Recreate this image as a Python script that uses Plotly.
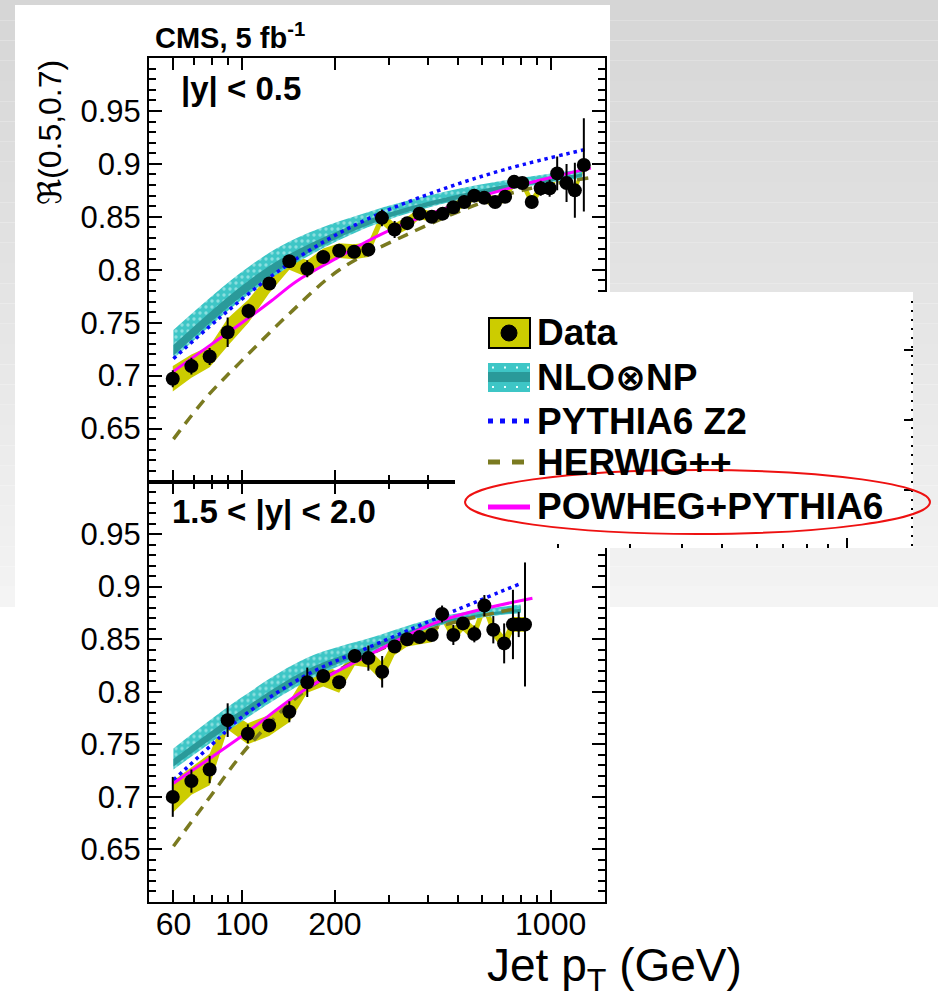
import numpy as np
import plotly.graph_objects as go

W, H = 938, 1005


def px(x):
    return x / W


def py(y):
    return 1 - y / H


# ---------------- data : |y| < 0.5 ----------------
pt_up = [59.7, 68.6, 78.6, 89.9, 105, 122.7, 142.4, 162.8, 183.4, 206.5, 230.8,
         256.8, 284.1, 312.3, 343.2, 375.9, 411.9, 447, 484, 525, 565.7, 609.6,
         661, 712, 761.5, 809.6, 868.5, 928.5, 992.6, 1050, 1126, 1198, 1281]
r_up = [0.697, 0.709, 0.718, 0.741, 0.761, 0.787, 0.808, 0.801, 0.812, 0.818, 0.817,
        0.819, 0.849, 0.838, 0.844, 0.853, 0.850, 0.853, 0.859, 0.864, 0.870, 0.868,
        0.864, 0.869, 0.883, 0.882, 0.864, 0.877, 0.877, 0.891, 0.882, 0.875, 0.899]
stat_up = [0.008, 0.008, 0.008, 0.014, 0.007, 0.005, 0.006, 0.008, 0.005, 0.004, 0.004,
           0.004, 0.008, 0.008, 0.005, 0.006, 0.004, 0.004, 0.005, 0.006, 0.006, 0.005,
           0.005, 0.005, 0.004, 0.005, 0.006, 0.007, 0.008, 0.016, 0.018, 0.026, 0.044]
sys_up = [0.012, 0.011, 0.010, 0.013, 0.011, 0.009, 0.008, 0.008, 0.008, 0.007, 0.007,
          0.007, 0.006, 0.006, 0.006, 0.005, 0.005, 0.005, 0.005, 0.005, 0.005, 0.005,
          0.005, 0.005, 0.005, 0.005, 0.005, 0.005, 0.005, 0.005, 0.005, 0.005, 0.005]

nlo_pt_up = [60, 100, 143, 266, 558, 1265]
nlo_lo_up = [0.716, 0.772, 0.803, 0.842, 0.869, 0.887]
nlo_hi_up = [0.743, 0.798, 0.827, 0.856, 0.879, 0.895]
nlo_inlo_up = [0.719, 0.775, 0.806, 0.844, 0.870, 0.888]
nlo_inhi_up = [0.729, 0.785, 0.815, 0.849, 0.874, 0.891]

py6_pt_up = [60, 85, 126, 188, 279, 436, 717, 1313]
py6_up = [0.716, 0.755, 0.795, 0.828, 0.853, 0.875, 0.895, 0.914]

hw_pt_up = [60, 77, 99, 143, 207, 341, 558, 809, 1347]
hw_up = [0.640, 0.680, 0.713, 0.759, 0.800, 0.833, 0.860, 0.875, 0.887]

pw_pt_up = [60, 80, 100, 125, 150, 200, 280, 400, 560, 800, 1100, 1350]
pw_up = [0.704, 0.730, 0.750, 0.771, 0.789, 0.810, 0.833, 0.852, 0.867, 0.880, 0.890, 0.896]

# ---------------- data : 1.5 < |y| < 2.0 ----------------
pt_lo = [59.7, 68.6, 78.6, 89.9, 104.5, 122.5, 142.4, 162.8, 183.4, 206.5, 232,
         256.8, 284.6, 312.3, 343, 376, 412, 445, 484, 520, 566, 610, 652, 707,
         755, 788, 826]
r_lo = [0.700, 0.715, 0.726, 0.773, 0.760, 0.768, 0.781, 0.809, 0.815, 0.809, 0.834,
        0.832, 0.819, 0.843, 0.850, 0.852, 0.854, 0.874, 0.854, 0.865, 0.855, 0.882,
        0.859, 0.846, 0.864, 0.864, 0.864]
stat_lo = [0.019, 0.011, 0.013, 0.016, 0.009, 0.005, 0.010, 0.014, 0.006, 0.006, 0.006,
           0.012, 0.015, 0.006, 0.006, 0.005, 0.005, 0.008, 0.0095, 0.006, 0.008, 0.010,
           0.013, 0.019, 0.033, 0.012, 0.059]
sys_lo = [0.015, 0.013, 0.015, 0.009, 0.010, 0.010, 0.010, 0.010, 0.010, 0.010, 0.009,
          0.009, 0.009, 0.008, 0.007, 0.007, 0.007, 0.007, 0.007, 0.007, 0.007, 0.007,
          0.007, 0.007, 0.007, 0.007, 0.007]

nlo_pt_lo = [60, 99, 162, 266, 436, 800]
nlo_lo_lo = [0.726, 0.771, 0.810, 0.838, 0.863, 0.875]
nlo_hi_lo = [0.746, 0.794, 0.832, 0.852, 0.871, 0.883]
nlo_inlo_lo = [0.729, 0.774, 0.813, 0.840, 0.864, 0.876]
nlo_inhi_lo = [0.736, 0.782, 0.821, 0.845, 0.867, 0.879]

py6_pt_lo = [60, 85, 99, 162, 266, 436, 800]
py6_lo = [0.716, 0.757, 0.775, 0.816, 0.844, 0.871, 0.903]

hw_pt_lo = [60, 77, 107, 162, 266, 436, 800]
hw_lo = [0.653, 0.696, 0.751, 0.802, 0.837, 0.862, 0.880]

pw_pt_lo = [60, 99, 162, 266, 436, 873]
pw_lo = [0.713, 0.757, 0.803, 0.837, 0.867, 0.889]

# tick labels
x_major = [60, 100, 200, 1000]
x_major_text = ["60", "100", "200", "1000"]
x_minor = [70, 80, 90, 300, 400, 500, 600, 700, 800, 900]
y_major = [0.65, 0.7, 0.75, 0.8, 0.85, 0.9, 0.95]
y_major_text = ["0.65", "0.7", "0.75", "0.8", "0.85", "0.9", "0.95"]

# ---------------- styles ----------------
YELLOW = "#cccc00"
CYAN = "#3ec6c6"
TEAL = "#2a9a9a"
BLUE = "#0a0aff"
OLIVE = "#7a7a20"
MAGENTA = "#ff00ff"
FONT = "Liberation Sans, Arial, DejaVu Sans"

fig = go.Figure()


def add_panel(xa, ya, pt, r, stat, sysu, npt, nlo, nhi, ninlo, ninhi,
              ppt, pval, hpt, hval, wpt, wval):
    # systematic band
    fig.add_trace(go.Scatter(x=pt, y=[a + b for a, b in zip(r, sysu)], mode="lines",
                             line=dict(width=0, color=YELLOW), xaxis=xa, yaxis=ya,
                             showlegend=False, hoverinfo="skip"))
    fig.add_trace(go.Scatter(x=pt, y=[a - b for a, b in zip(r, sysu)], mode="lines",
                             line=dict(width=0, color=YELLOW), fill="tonexty",
                             fillcolor=YELLOW, xaxis=xa, yaxis=ya,
                             showlegend=False, hoverinfo="skip"))
    # NLO outer band
    fig.add_trace(go.Scatter(x=npt, y=nhi, mode="lines", line=dict(width=0, color=CYAN, shape="spline"),
                             xaxis=xa, yaxis=ya, showlegend=False, hoverinfo="skip"))
    fig.add_trace(go.Scatter(x=npt, y=nlo, mode="lines", line=dict(width=0, color=CYAN, shape="spline"),
                             fill="tonexty", fillcolor=CYAN,
                             fillpattern=dict(shape=".", bgcolor=CYAN, fgcolor="#d8f8f8",
                                              size=6, solidity=0.25),
                             xaxis=xa, yaxis=ya, showlegend=False, hoverinfo="skip"))
    # NLO inner band
    fig.add_trace(go.Scatter(x=npt, y=ninhi, mode="lines", line=dict(width=0, color=TEAL, shape="spline"),
                             xaxis=xa, yaxis=ya, showlegend=False, hoverinfo="skip"))
    fig.add_trace(go.Scatter(x=npt, y=ninlo, mode="lines", line=dict(width=0, color=TEAL, shape="spline"),
                             fill="tonexty", fillcolor=TEAL,
                             xaxis=xa, yaxis=ya, showlegend=False, hoverinfo="skip"))
    # curves
    fig.add_trace(go.Scatter(x=hpt, y=hval, mode="lines",
                             line=dict(color=OLIVE, width=3.5, dash="11px,8px", shape="spline"),
                             xaxis=xa, yaxis=ya, showlegend=False))
    fig.add_trace(go.Scatter(x=ppt, y=pval, mode="lines",
                             line=dict(color=BLUE, width=3.5, dash="3.5px,4px", shape="spline"),
                             xaxis=xa, yaxis=ya, showlegend=False))
    fig.add_trace(go.Scatter(x=wpt, y=wval, mode="lines",
                             line=dict(color=MAGENTA, width=3, shape="spline"),
                             xaxis=xa, yaxis=ya, showlegend=False))
    # data
    fig.add_trace(go.Scatter(x=pt, y=r, mode="markers",
                             marker=dict(color="black", size=14, symbol="circle"),
                             error_y=dict(type="data", array=stat, color="black",
                                          thickness=2, width=0),
                             xaxis=xa, yaxis=ya, showlegend=False))


add_panel("x", "y", pt_up, r_up, stat_up, sys_up, nlo_pt_up, nlo_lo_up, nlo_hi_up,
          nlo_inlo_up, nlo_inhi_up, py6_pt_up, py6_up, hw_pt_up, hw_up, pw_pt_up, pw_up)
add_panel("x2", "y2", pt_lo, r_lo, stat_lo, sys_lo, nlo_pt_lo, nlo_lo_lo, nlo_hi_lo,
          nlo_inlo_lo, nlo_inhi_lo, py6_pt_lo, py6_lo, hw_pt_lo, hw_lo, pw_pt_lo, pw_lo)

y_minor = [round(0.6 + 0.01 * i, 2) for i in range(41) if i % 5 != 0]

xdom = [px(149), px(605)]
common_x = dict(type="log", range=[np.log10(50), np.log10(1500)], domain=xdom,
                tickmode="array", tickvals=x_major, ticktext=x_major_text,
                ticks="inside", ticklen=12, tickwidth=2, tickcolor="black",
                showline=True, linecolor="black", linewidth=2, mirror="allticks",
                showgrid=False, zeroline=False,
                tickfont=dict(family=FONT, size=32, color="black"),
                minor=dict(tickmode="array", tickvals=x_minor, ticks="inside", ticklen=7,
                           tickwidth=2, tickcolor="black", showgrid=False))
common_y = dict(range=[0.6, 1.0], tickmode="array", tickvals=y_major, ticktext=y_major_text,
                ticks="inside", ticklen=13, tickwidth=2, tickcolor="black",
                showline=True, linecolor="black", linewidth=2, mirror="allticks",
                showgrid=False, zeroline=False,
                tickfont=dict(family=FONT, size=31, color="black"),
                minor=dict(tickmode="array", tickvals=y_minor, ticks="inside", ticklen=7,
                           tickwidth=2, tickcolor="black", showgrid=False))

fig.update_layout(
    width=W, height=H, margin=dict(l=0, r=0, t=0, b=0),
    paper_bgcolor="white", plot_bgcolor="rgba(0,0,0,0)",
    xaxis=dict(common_x, anchor="y", showticklabels=False),
    xaxis2=dict(common_x, anchor="y2", matches="x", ticklabelstandoff=-7),
    yaxis=dict(common_y, domain=[py(481.5), py(58)], anchor="x"),
    yaxis2=dict(common_y, domain=[py(902), py(481.5)], anchor="x2"),
    showlegend=False,
)

shapes = []
# background gradient
n = 30
for i in range(n):
    y0 = 607 * i / n
    y1 = 607 * (i + 1) / n
    g = int(214 + (244 - 214) * i / (n - 1))
    shapes.append(dict(type="rect", xref="paper", yref="paper", x0=0, x1=1,
                       y0=py(y1), y1=py(y0), fillcolor=f"rgb({g},{g},{g})",
                       line=dict(width=0), layer="below"))
# white panel
shapes.append(dict(type="rect", xref="paper", yref="paper", x0=px(15), x1=px(610),
                   y0=0, y1=py(5), fillcolor="white", line=dict(width=0), layer="below"))
shapes.append(dict(type="rect", xref="paper", yref="paper", x0=0, x1=1,
                   y0=0, y1=py(607), fillcolor="white", line=dict(width=0), layer="below"))
# legend box (white, covers the plot)
shapes.append(dict(type="rect", xref="paper", yref="paper", x0=px(455), x1=px(913),
                   y0=py(548), y1=py(292), fillcolor="white", line=dict(width=0), layer="above"))
# remnants of a neighbouring frame
shapes.append(dict(type="line", xref="paper", yref="paper", x0=px(912), x1=px(912),
                   y0=py(546), y1=py(296), line=dict(color="black", width=2, dash="2px,7px"),
                   layer="above"))
for yy in [350, 420, 490]:
    shapes.append(dict(type="line", xref="paper", yref="paper", x0=px(904), x1=px(913),
                       y0=py(yy), y1=py(yy), line=dict(color="black", width=2), layer="above"))
for xx, ln in [(558, 4), (630, 4), (682, 4), (722, 4), (757, 4), (783, 4), (807, 4),
               (828, 4), (847, 10)]:
    shapes.append(dict(type="line", xref="paper", yref="paper", x0=px(xx), x1=px(xx),
                       y0=py(548), y1=py(548 - ln), line=dict(color="black", width=2),
                       layer="above"))

# legend symbols
# Data
shapes.append(dict(type="rect", xref="paper", yref="paper", x0=px(489), x1=px(530),
                   y0=py(348), y1=py(318), fillcolor=YELLOW, line=dict(color="black", width=2),
                   layer="above"))
shapes.append(dict(type="circle", xref="paper", yref="paper", x0=px(501), x1=px(517),
                   y0=py(341), y1=py(325), fillcolor="black", line=dict(color="black", width=1),
                   layer="above"))
# NLO
shapes.append(dict(type="rect", xref="paper", yref="paper", x0=px(488), x1=px(530),
                   y0=py(392), y1=py(363), fillcolor=CYAN, line=dict(width=0), layer="above"))
shapes.append(dict(type="rect", xref="paper", yref="paper", x0=px(488), x1=px(530),
                   y0=py(382), y1=py(372), fillcolor=TEAL, line=dict(width=0), layer="above"))
for yy in [367.5, 387]:
    for xx in [493, 505, 517, 528]:
        shapes.append(dict(type="rect", xref="paper", yref="paper", x0=px(xx - 1), x1=px(xx + 1),
                           y0=py(yy + 1), y1=py(yy - 1), fillcolor="#e8ffff",
                           line=dict(width=0), layer="above"))
# PYTHIA6
shapes.append(dict(type="line", xref="paper", yref="paper", x0=px(488), x1=px(530),
                   y0=py(421), y1=py(421), line=dict(color=BLUE, width=5, dash="5px,7px"),
                   layer="above"))
# HERWIG
shapes.append(dict(type="line", xref="paper", yref="paper", x0=px(488), x1=px(524),
                   y0=py(462), y1=py(462), line=dict(color=OLIVE, width=5, dash="12px,12px"),
                   layer="above"))
# POWHEG
shapes.append(dict(type="line", xref="paper", yref="paper", x0=px(488), x1=px(530),
                   y0=py(507), y1=py(507), line=dict(color=MAGENTA, width=5), layer="above"))
# red ellipse
shapes.append(dict(type="circle", xref="paper", yref="paper", x0=px(465), x1=px(930),
                   y0=py(534), y1=py(470), line=dict(color="#ee1111", width=2), layer="above"))
fig.update_layout(shapes=shapes)

ann = []


def text(x, y, s, size, xanchor="left", bold=False, angle=0):
    ann.append(dict(xref="paper", yref="paper", x=px(x), y=py(y), text=f"<b>{s}</b>" if bold else s,
                    showarrow=False, xanchor=xanchor, yanchor="middle", textangle=angle,
                    font=dict(family=FONT, size=size, color="black")))


text(153, 36, "CMS, 5 fb<sup>-1</sup>", 29, bold=True)
text(179, 89, "|y| < 0.5", 33, bold=True)
text(170, 512, "1.5 < |y| < 2.0", 33, bold=True)
text(50, 133, "ℜ(0.5,0.7)", 32, xanchor="center", angle=-90)
text(485, 968, "Jet p<sub>T</sub> (GeV)", 46)

legend_rows = [("Data", 332), ("NLO⊗NP", 377), ("PYTHIA6 Z2", 421),
               ("HERWIG++", 462), ("POWHEG+PYTHIA6", 506)]
for s, yy in legend_rows:
    text(535, yy, s, 37, bold=True)

fig.update_layout(annotations=ann)
fig.write_html("out.html", config={"displayModeBar": False},
               post_script="document.body.style.margin='0px';document.body.style.padding='0px';")
